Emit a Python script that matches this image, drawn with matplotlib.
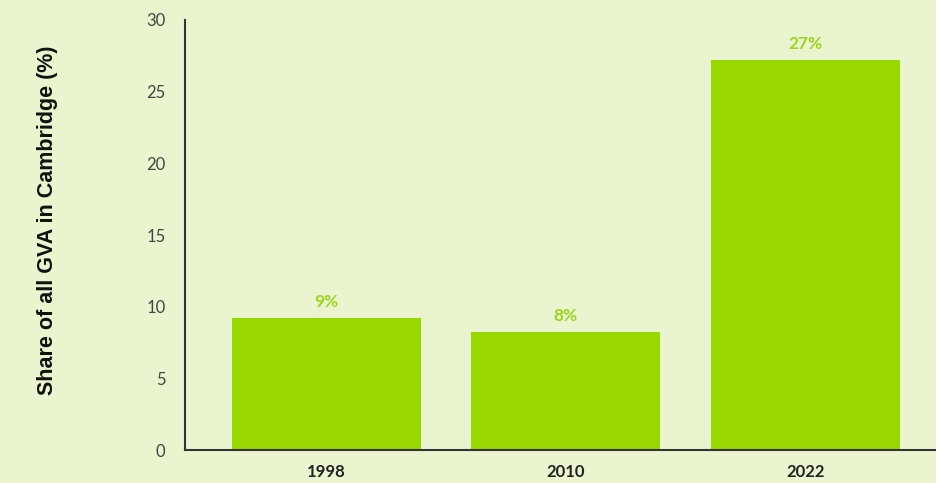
import matplotlib.pyplot as plt

# ---------------- data ----------------
years = ['1998', '2010', '2022']
share = [9.2, 8.2, 27.2]
share_labels = ['9%', '8%', '27%']

bg = '#EAF5D0'
bar_col = '#99D700'

fig = plt.figure(figsize=(9.37, 4.83), dpi=100, facecolor=bg)
ax = fig.add_axes([0.1974, 0.0683, 0.8026, 0.8903])
ax.set_facecolor(bg)

x = range(len(years))
bars = ax.bar(x, share, width=0.79, color=bar_col)

# value labels above bars
for b, lab in zip(bars, share_labels):
    ax.annotate(lab, (b.get_x() + b.get_width() / 2, b.get_height()),
                xytext=(0, 6), textcoords='offset points',
                ha='center', va='bottom', color='#9BD41E',
                fontsize=12.5, fontweight='bold', family='Lato')

ax.set_xlim(-0.59, 2.55)
ax.set_ylim(0, 30)
ax.set_yticks(range(0, 31, 5))
ax.set_xticks(list(x))
ax.set_xticklabels(years, fontsize=12, fontweight='bold', family='Lato', color='#222222')
for t in ax.get_yticklabels():
    t.set_family('Lato')
    t.set_fontsize(12)
    t.set_color('#444444')
ax.tick_params(axis='y', length=0, pad=14)
ax.tick_params(axis='x', length=0, pad=10)

for s in ['top', 'right']:
    ax.spines[s].set_visible(False)
for s in ['left', 'bottom']:
    ax.spines[s].set_color('#333333')
    ax.spines[s].set_linewidth(1.5)

fig.text(0.051, 0.545, 'Share of all GVA in Cambridge (%)', rotation=90,
         ha='center', va='center', fontsize=15.5, fontweight='bold',
         family='Liberation Sans', color='#111111')

fig.savefig('out.png', dpi=100, facecolor=bg)
